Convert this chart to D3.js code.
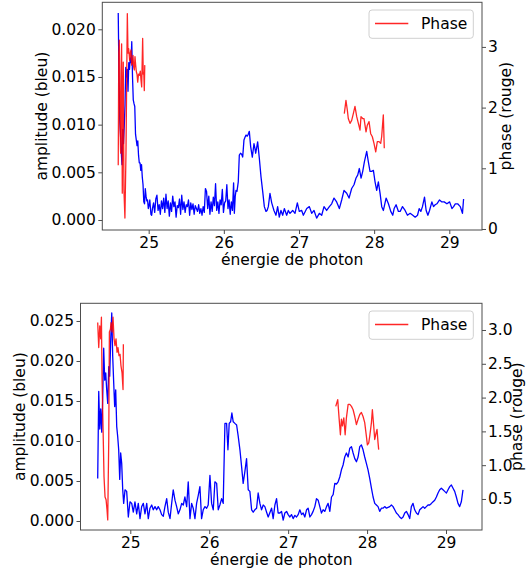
<!DOCTYPE html>
<html><head><meta charset="utf-8">
<script src="https://cdn.jsdelivr.net/npm/d3@7/dist/d3.min.js"></script>
<style>
html,body{margin:0;padding:0;background:#fff;}
svg{display:block;font-family:"DejaVu Sans",sans-serif;}
</style></head>
<body>
<svg id="chart" width="527" height="573"></svg>
<script>
// ---------------- DATA ----------------
const xTicks = [25, 26, 27, 28, 29];
const ampTicksTop = [0, 0.005, 0.010, 0.015, 0.020];
const ampTicksBottom = [0, 0.005, 0.010, 0.015, 0.020, 0.025];
const phaseTicksTop = [0, 1, 2, 3];
const phaseTicksBottom = [0.5, 1.0, 1.5, 2.0, 2.5, 3.0];

// top panel – amplitude (blue)
const energyTop = [24.595,24.605,24.615,24.625,24.635,24.645,24.655,24.665,24.675,24.685,24.695,24.705,24.715,24.725,24.735,24.745,24.755,24.765,24.775,24.785,24.795,24.805,24.815,24.825,24.835,24.845,24.855,24.865,24.875,24.885,24.895,24.905,24.915,24.925,24.935,24.945,24.955,24.965,24.975,24.985,24.995,25.005,25.015,25.03,25.04,
25.05,25.065,25.08,25.095,25.11,25.125,25.14,25.155,25.17,25.185,25.2,25.215,25.23,25.245,25.26,25.275,25.29,25.305,25.32,25.335,25.35,25.365,25.38,25.395,25.41,25.425,25.44,25.455,25.47,25.485,25.5,25.515,25.53,25.545,25.56,25.575,25.59,25.605,25.62,25.635,25.65,25.665,25.68,25.695,25.71,25.725,25.74,25.755,25.77,25.785,25.8,25.815,25.83,25.845,25.86,25.875,25.89,25.905,25.92,25.935,25.95,25.965,25.98,25.995,26.01,26.025,26.04,26.055,26.07,26.085,26.1,26.115,26.13,26.14,
26.152,26.162,26.175,26.192,26.206,26.222,26.237,26.251,26.268,26.283,26.295,26.312,26.325,26.339,26.357,26.379,26.401,26.412,26.424,26.45,26.472,26.495,26.517,26.539,26.561,26.575,26.592,26.614,26.637,26.667,26.694,
26.716,26.738,26.76,26.783,26.805,26.836,26.858,26.88,26.916,26.947,26.978,27.004,27.036,27.058,27.103,27.138,27.169,27.2,27.235,27.271,27.302,27.333,27.368,27.404,27.435,27.466,27.501,27.537,27.568,27.599,27.635,27.666,27.701,27.732,27.759,27.781,27.803,27.826,27.848,27.87,27.901,27.923,27.945,27.967,27.99,28.012,28.034,28.056,28.079,28.101,28.123,28.159,28.19,28.221,28.248,28.266,28.292,28.323,28.346,28.377,28.412,28.443,28.479,28.514,28.546,28.577,28.599,28.621,28.643,28.67,28.692,28.715,28.737,28.768,28.79,28.812,28.835,28.87,28.901,28.932,28.968,29.004,29.035,29.057,29.08,29.111,29.146,29.175,29.19];
const amplitudeTop = [.0217,.0150,.0105,.0090,.0072,.0058,.0095,.0080,.0098,.0120,.0160,.0150,.0158,.0135,.0165,.0158,.0170,.0165,.0187,.0150,.0126,.0122,.0119,.0090,.0084,.0078,.0083,.0068,.0060,.0060,.0052,.0058,.0045,.0037,.0019,.0017,.0033,.0025,.0020,.0021,.0012,.0015,.0021,.0006,.0005,
.0012,.0018,.0008,.0022,.0026,.0010,.0016,.0006,.0020,.0012,.0023,.0008,.0027,.0012,.0020,.0004,.0018,.0009,.0025,.0014,.0019,.0003,.0015,.0013,.0022,.0006,.0026,.0011,.0019,.0008,.0016,.0014,.0021,.0005,.0018,.0011,.0017,.0006,.0015,.0012,.0009,.0016,.0007,.0012,.0005,.0014,.0008,.0033,.0030,.0012,.0025,.0006,.0019,.0009,.0024,.0015,.0038,.0010,.0019,.0007,.0021,.0016,.0032,.0008,.0018,.0020,.0037,.0012,.0021,.0006,.0019,.0010,.0039,.0007,
.0025,.0031,.0030,.0040,.0068,.0070,.0069,.0066,.0084,.0087,.0089,.0088,.0090,.0093,.0077,.0066,.0080,.0076,.0070,.0082,.0065,.0045,.0030,.0014,.0009,.0010,.0014,.0028,.0018,.0010,.0005,
.0014,.0003,.0010,.0005,.0012,.0005,.0010,.0007,.0010,.0007,.0018,.0009,.0010,.0005,.0012,.0014,.0007,.0010,.0002,.0007,.0005,.0014,.0010,.0014,.0017,.0023,.0019,.0012,.0021,.0031,.0028,.0023,.0033,.0037,.0044,.0047,.0054,.0044,.0051,.0061,.0072,.0061,.0051,.0051,.0052,.0040,.0031,.0040,.0028,.0014,.0010,.0023,.0017,.0009,.0005,.0012,.0016,.0009,.0009,.0014,.0010,.0005,.0007,.0005,.0003,.0005,.0012,.0009,.0014,.0024,.0010,.0005,.0010,.0019,.0014,.0016,.0017,.0021,.0019,.0019,.0017,.0019,.0012,.0014,.0017,.0017,.0014,.0007,.0022];

// top panel – phase (red); null separates the two pieces
const phaseEnergyTop = [24.595,24.602,24.609,24.618,24.627,24.634,24.64,24.649,24.656,24.662,24.671,24.684,24.698,24.716,24.725,24.734,24.747,24.756,24.765,24.774,24.783,24.792,24.8,24.809,24.818,24.827,24.836,24.845,24.854,24.865,24.876,24.889,24.898,24.907,24.92,24.928,24.935,24.942,24.948,
null,
27.603,27.625,27.643,27.656,27.679,27.701,27.723,27.745,27.768,27.79,27.812,27.825,27.848,27.865,27.892,27.909,27.932,27.954,27.976,27.998,28.021,28.042,28.065,28.087,28.1,28.122,28.135];
const phaseTop = [1.05,2.90,3.11,1.80,1.25,2.60,3.05,0.59,2.20,2.75,0.64,0.18,1.25,3.55,2.90,2.97,2.78,2.90,2.95,2.70,2.75,2.86,2.67,2.62,2.84,2.70,2.59,2.55,2.42,2.55,2.53,2.60,2.45,2.34,3.14,2.55,2.58,2.28,2.70,
null,
1.90,2.12,1.96,1.82,1.74,1.79,1.90,2.02,1.85,1.74,1.63,1.85,1.82,1.82,1.60,1.71,1.77,1.57,1.52,1.41,1.27,1.44,1.44,1.41,1.52,1.88,1.33];

// bottom panel – amplitude (blue)
const energyBottom = [24.587,24.6,24.613,24.625,24.638,24.65,24.663,24.676,24.689,24.701,24.714,24.727,24.739,24.752,24.765,24.777,24.79,24.802,24.815,24.828,24.84,24.853,24.866,24.878,24.891,24.904,24.916,24.933,24.954,24.975,24.996,25.018,25.038,25.059,25.081,25.101,25.123,25.144,25.165,25.186,25.208,25.228,25.249,25.271,25.291,25.313,25.334,25.354,25.376,25.397,25.418,25.439,25.461,25.481,25.503,25.524,25.544,25.566,25.587,25.608,25.629,25.651,25.671,25.692,25.714,25.734,25.756,25.777,25.797,25.819,25.84,25.861,25.882,25.903,25.924,25.946,25.967,25.987,26.009,26.03,26.051,26.072,26.094,26.114,26.135,26.157,26.177,26.199,26.22,26.237,26.253,26.271,26.287,26.304,26.325,26.347,26.367,26.389,26.41,26.43,26.452,26.473,26.494,26.515,26.537,26.557,26.578,26.6,26.62,26.642,26.663,26.684,26.705,26.727,26.747,
26.79,26.81,26.832,26.853,26.873,26.895,26.916,26.937,26.958,26.98,27.0,27.022,27.042,27.063,27.085,27.106,27.127,27.148,27.17,27.19,27.211,27.233,27.253,27.275,27.296,27.316,27.338,27.359,27.38,27.401,27.422,27.443,27.465,27.486,27.506,27.528,27.549,27.57,27.591,27.612,27.633,27.654,27.675,27.696,27.717,27.738,27.76,27.781,27.802,27.823,27.844,27.865,27.886,27.907,27.928,27.949,27.97,27.991,28.012,28.034,28.055,28.076,28.097,28.118,28.139,28.16,28.181,28.202,28.223,28.245,28.266,28.287,28.308,28.329,28.35,28.371,28.392,28.413,28.435,28.456,28.477,28.498,28.519,28.54,28.561,28.582,28.603,28.625,28.646,28.667,28.688,28.709,28.73,28.751,28.772,28.793,28.815,28.836,28.857,28.878,28.899,28.92,28.941,28.962,28.983,29.005,29.026,29.047,29.068,29.089,29.11,29.131,29.152,29.173,29.194,29.215];
const amplitudeBottom = [.0053,.0162,.0115,.0140,.0111,.0152,.0216,.0176,.0185,.0164,.0147,.0193,.0181,.0227,.0260,.0206,.0172,.0143,.0164,.0118,.0106,.0089,.0052,.0085,.0072,.0039,.0022,.0039,.0037,.0005,.0024,.0022,.0011,.0024,.0009,.0022,.0003,.0018,.0022,.0009,.0022,.0003,.0016,.0020,.0014,.0018,.0014,.0018,.0014,.0008,.0006,.0018,.0028,.0011,.0003,.0022,.0039,.0026,.0018,.0009,.0014,.0022,.0020,.0030,.0018,.0049,.0003,.0022,.0016,.0003,.0022,.0032,.0043,.0003,.0014,.0018,.0016,.0020,.0057,.0022,.0014,.0049,.0047,.0014,.0020,.0028,.0022,.0122,.0122,.0089,.0122,.0124,.0135,.0124,.0122,.0120,.0106,.0089,.0068,.0047,.0062,.0078,.0039,.0037,.0014,.0011,.0014,.0016,.0035,.0022,.0014,.0020,.0018,.0011,.0005,
.0016,.0003,.0020,.0028,.0010,.0010,.0012,.0001,.0010,.0012,.0008,.0005,.0008,.0003,.0007,.0005,.0008,.0014,.0008,.0010,.0005,.0014,.0016,.0005,.0008,.0012,.0018,.0028,.0026,.0018,.0010,.0014,.0012,.0018,.0022,.0012,.0030,.0033,.0047,.0046,.0049,.0055,.0064,.0070,.0080,.0085,.0080,.0091,.0093,.0085,.0078,.0074,.0080,.0093,.0095,.0089,.0080,.0072,.0064,.0053,.0041,.0030,.0022,.0020,.0018,.0012,.0016,.0016,.0018,.0016,.0017,.0018,.0020,.0018,.0014,.0010,.0008,.0005,.0003,.0005,.0010,.0012,.0008,.0003,.0018,.0022,.0014,.0010,.0008,.0014,.0016,.0018,.0016,.0018,.0020,.0020,.0022,.0024,.0026,.0030,.0035,.0039,.0041,.0039,.0037,.0035,.0039,.0043,.0045,.0041,.0037,.0030,.0022,.0018,.0024,.0039];

// bottom panel – phase (red)
const phaseEnergyBottom = [24.587,24.6,24.613,24.625,24.634,24.642,24.655,24.667,24.68,24.693,24.705,24.714,24.727,24.735,24.748,24.756,24.769,24.781,24.794,24.806,24.819,24.832,24.844,24.857,24.87,24.882,24.895,24.908,24.912,
null,
27.603,27.628,27.645,27.662,27.675,27.688,27.705,27.722,27.738,27.76,27.781,27.802,27.823,27.844,27.865,27.886,27.907,27.928,27.949,27.97,27.991,28.004,28.021,28.034,28.055,28.067,28.084,28.097,28.109,28.126,28.139,28.147];
const phaseBottom = [3.11,2.74,3.06,2.87,3.19,2.27,1.53,0.83,0.53,0.49,0.34,0.19,1.38,2.97,3.01,3.11,2.97,3.19,2.87,2.77,2.87,2.67,2.74,2.62,2.64,2.47,2.37,2.12,2.79,
null,
1.87,1.97,1.70,1.45,1.68,1.58,1.70,1.45,1.70,1.90,1.90,1.87,1.82,1.72,1.60,1.68,1.75,1.78,1.72,1.63,1.43,1.30,1.33,1.43,1.63,1.82,1.58,1.38,1.45,1.53,1.33,1.23];

const labelX = "énergie de photon";
const labelAmp = "amplitude (bleu)";
const labelPhase = "phase (rouge)";
const legendLabel = "Phase";

// ---------------- DRAW ----------------
const svg = d3.select("#chart");
const FONT = 15.5;
const SPINE = "#4d4d4d";

function panel(o) {
  const x = d3.scaleLinear().domain(o.xDom).range([o.left, o.right]);
  const yL = d3.scaleLinear().domain(o.ampDom).range([o.bottom, o.top]);
  const yR = d3.scaleLinear().domain(o.phDom).range([o.bottom, o.top]);
  const g = svg.append("g");
  const clipId = "clip" + o.id;
  svg.append("clipPath").attr("id", clipId).append("rect")
    .attr("x", o.left).attr("y", o.top).attr("width", o.right - o.left).attr("height", o.bottom - o.top);

  const blue = o.energy.map((e, i) => [e, o.amp[i]]);
  const red = o.phEnergy.map((e, i) => [e, o.phase[i]]);
  g.append("path").datum(blue)
    .attr("clip-path", `url(#${clipId})`)
    .attr("fill", "none").attr("stroke", "#0000ff").attr("stroke-width", 1.3).attr("stroke-linejoin", "round")
    .attr("d", d3.line().x(d => x(d[0])).y(d => yL(d[1])));
  g.append("path").datum(red)
    .attr("clip-path", `url(#${clipId})`)
    .attr("fill", "none").attr("stroke", "#ff0000").attr("stroke-opacity", 0.85).attr("stroke-width", 1.3).attr("stroke-linejoin", "round")
    .attr("d", d3.line().defined(d => d[0] !== null && d[1] !== null).x(d => x(d[0])).y(d => yR(d[1])));

  const styleAxis = sel => {
    sel.select(".domain").remove();
    sel.selectAll(".tick line").attr("stroke", SPINE);
    sel.selectAll(".tick text").attr("fill", "#000").style("font-size", FONT + "px").style("font-family", "DejaVu Sans");
  };
  g.append("g").attr("transform", `translate(0,${o.bottom})`)
    .call(d3.axisBottom(x).tickValues(xTicks).tickFormat(d3.format("d")).tickSize(4).tickPadding(2.5)).call(styleAxis);
  g.append("g").attr("transform", `translate(${o.left},0)`)
    .call(d3.axisLeft(yL).tickValues(o.ampTicks).tickFormat(d3.format(".3f")).tickSize(4).tickPadding(2.5)).call(styleAxis);
  g.append("g").attr("transform", `translate(${o.right},0)`)
    .call(d3.axisRight(yR).tickValues(o.phTicks).tickFormat(d3.format(o.phFmt)).tickSize(4).tickPadding(2)).call(styleAxis);

  g.append("rect").attr("x", o.left).attr("y", o.top).attr("width", o.right - o.left).attr("height", o.bottom - o.top)
    .attr("fill", "none").attr("stroke", SPINE).attr("stroke-width", 1);

  g.append("text").attr("x", (o.left + o.right) / 2).attr("y", o.bottom + 35)
    .attr("text-anchor", "middle").style("font-size", FONT + "px").text(labelX);
  const cy = (o.top + o.bottom) / 2;
  g.append("text").attr("transform", `translate(${o.ylabX},${cy}) rotate(-90)`)
    .attr("text-anchor", "middle").attr("dy", "0.3em").style("font-size", FONT + "px").text(labelAmp);
  g.append("text").attr("transform", `translate(${o.yRlabX},${cy}) rotate(-90)`)
    .attr("text-anchor", "middle").attr("dy", "0.3em").style("font-size", FONT + "px").text(labelPhase);

  // legend
  const lx = o.right - 113, ly = o.top + 7.7;
  const lg = g.append("g");
  lg.append("rect").attr("x", lx).attr("y", ly).attr("width", 104.3).attr("height", 28.3).attr("rx", 3)
    .attr("fill", "#fff").attr("fill-opacity", 0.8).attr("stroke", "#d0d0d0").attr("stroke-width", 1);
  lg.append("line").attr("x1", lx + 6).attr("x2", lx + 39.3).attr("y1", ly + 13.5).attr("y2", ly + 13.5)
    .attr("stroke", "#ff0000").attr("stroke-opacity", 0.85).attr("stroke-width", 1.3);
  lg.append("text").attr("x", lx + 52).attr("y", ly + 19.2).style("font-size", FONT + "px").text(legendLabel);
}

panel({id: "a", left: 102.3, right: 482, top: 2.3, bottom: 230,
  xDom: [24.383, 29.435], ampDom: [-0.001049, 0.022832], phDom: [-0.0165, 3.735],
  energy: energyTop, amp: amplitudeTop, phEnergy: phaseEnergyTop, phase: phaseTop,
  ampTicks: ampTicksTop, phTicks: phaseTicksTop, phFmt: "d", ylabX: 42.2, yRlabX: 506.7});

panel({id: "b", left: 80.5, right: 482, top: 303.3, bottom: 530,
  xDom: [24.369, 29.456], ampDom: [-0.001125, 0.02721], phDom: [0.041, 3.395],
  energy: energyBottom, amp: amplitudeBottom, phEnergy: phaseEnergyBottom, phase: phaseBottom,
  ampTicks: ampTicksBottom, phTicks: phaseTicksBottom, phFmt: ".1f", ylabX: 20.4, yRlabX: 517.5});
</script>
</body></html>
